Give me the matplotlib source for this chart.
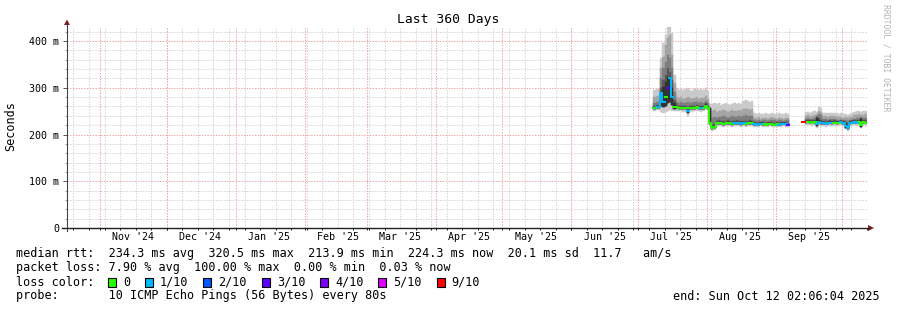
import numpy as np
import matplotlib
matplotlib.use("Agg")
import matplotlib.pyplot as plt
import matplotlib.dates as mdates
from matplotlib.lines import Line2D
from matplotlib.patches import Rectangle, Polygon
from matplotlib.ticker import FixedLocator, MultipleLocator, FuncFormatter
from datetime import datetime

plt.rcParams["font.family"] = ["DejaVu Sans Mono"]

W, H = 897, 310
nan = np.nan

# time window of the graph
start = datetime(2024, 10, 17, 2, 6, 4)
end = datetime(2025, 10, 12, 2, 6, 4)
first_day = datetime(2025, 7, 8)

# daily ping ranks in ms (Jul 8 .. Oct 11 2025)
top = [
    296, 298, 297,
    364, 396, 413, 430, 430, 417, 327,
    299, 296, 298, 295, 297, 299, 296, 294, 297, 298, 295, 297, 296, 299, 294,
    266, 266, 268, 265, 267, 264, 266, 268, 265, 263, 266, 267, 265, 268, 266, 271, 273, 272, 270, 272,
    245, 244, 246, 243, 244, 245, 243, 244, 246, 244, 243, 245, 244, 243, 245, 244,
    nan, nan, nan, nan, nan, nan,
    227, 248, 249, 247, 248, 250, 249, 259, 256, 246, 247, 245, 246, 247, 246, 245,
    244, 245, 243, 244, 242, 244, 245, 249, 250, 251, 249, 250, 251,
]
p9 = [
    280, 283, 282,
    342, 366, 391, 406, 413, 370, 310,
    281, 278, 280, 277, 279, 280, 278, 277, 279, 280, 277, 279, 278, 282, 277,
    256, 250, 252, 249, 251, 250, 252, 251, 249, 250, 252, 251, 250, 252, 251, 254, 255, 254, 253, 254,
    236, 235, 237, 234, 235, 236, 234, 235, 237, 235, 234, 236, 235, 234, 236, 235,
    nan, nan, nan, nan, nan, nan,
    227, 240, 241, 239, 240, 242, 243, 250, 248, 239, 240, 238, 239, 240, 239, 238,
    237, 238, 236, 237, 235, 237, 238, 241, 242, 243, 241, 242, 243,
]
p8 = [
    268, 270, 269,
    321, 342, 355, 370, 363, 342, 291,
    270, 268, 269, 267, 268, 269, 268, 267, 269, 270, 267, 269, 268, 272, 267,
    256, 236, 238, 236, 238, 237, 239, 238, 236, 237, 239, 238, 237, 239, 238, 240, 241, 240, 239, 240,
    230, 229, 231, 229, 230, 230, 229, 230, 231, 230, 229, 230, 230, 229, 230, 230,
    nan, nan, nan, nan, nan, nan,
    227, 234, 235, 233, 234, 235, 240, 243, 241, 233, 234, 232, 233, 234, 233, 232,
    231, 232, 230, 231, 229, 231, 232, 234, 235, 236, 238, 235, 236,
]
p7 = [
    262, 263, 263,
    299, 317, 327, 342, 334, 317, 274,
    263, 262, 262, 261, 261, 258, 262, 261, 262, 263, 262, 261, 262, 268, 262,
    256, 221, 222, 229, 230, 229, 228, 229, 230, 229, 228, 229, 230, 229, 228, 229, 228, 229, 230, 229,
    226, 225, 226, 227, 226, 225, 226, 227, 226, 225, 226, 225, 226, 227, 226, 225,
    nan, nan, nan, nan, nan, nan,
    227, 231, 232, 231, 230, 231, 238, 235, 232, 229, 228, 229, 230, 229, 230, 229,
    229, 230, 228, 226, 224, 229, 230, 231, 230, 231, 236, 231, 230,
]
p6 = [
    259, 260, 260,
    291, 302, 312, 323, 322, 299, 267,
    260, 259, 259, 258, 258, 253, 259, 258, 259, 260, 259, 258, 259, 265, 259,
    256, 217, 219, 226, 227, 226, 225, 226, 227, 226, 225, 226, 227, 226, 225, 226, 225, 226, 227, 226,
    224, 223, 224, 225, 224, 223, 224, 225, 224, 223, 224, 223, 224, 225, 224, 223,
    nan, nan, nan, nan, nan, nan,
    227, 228, 229, 228, 227, 228, 236, 230, 227, 226, 225, 226, 227, 226, 227, 226,
    227, 228, 226, 222, 218, 226, 227, 228, 227, 228, 234, 228, 227,
]
median = [
    257, 258, 258,
    289, 269, 280, 300, 320, 281, 259,
    258, 257, 257, 256, 256, 250, 257, 256, 257, 258, 257, 256, 257, 262, 257,
    224, 214, 216, 224, 225, 224, 223, 224, 225, 224, 223, 224, 225, 224, 223, 224, 223, 224, 225, 224,
    222, 221, 222, 223, 222, 221, 222, 223, 222, 221, 222, 221, 222, 223, 222, 221,
    nan, nan, nan, nan, nan, nan,
    227, 226, 227, 226, 225, 226, 222, 227, 224, 224, 223, 224, 225, 224, 225, 224,
    225, 226, 224, 218, 214, 224, 225, 226, 225, 226, 220, 226, 225,
]
mid_lo = [
    255, 256, 256,
    262, 258, 262, 268, 270, 264, 255,
    256, 255, 255, 254, 254, 247, 255, 254, 255, 256, 255, 254, 255, 259, 255,
    222, 212, 214, 222, 223, 222, 221, 222, 223, 222, 221, 222, 223, 222, 221, 222, 221, 222, 223, 222,
    221, 220, 221, 222, 221, 220, 221, 222, 221, 220, 221, 220, 221, 222, 221, 220,
    nan, nan, nan, nan, nan, nan,
    227, 225, 226, 225, 224, 225, 218, 226, 223, 223, 222, 223, 224, 223, 224, 223,
    224, 225, 223, 214, 211, 223, 224, 225, 224, 225, 217, 225, 224,
]
low = [
    250, 252, 252,
    248, 246, 248, 250, 252, 250, 250,
    251, 250, 250, 249, 249, 240, 250, 249, 250, 251, 250, 249, 250, 254, 250,
    219, 207, 209, 218, 219, 218, 217, 218, 219, 218, 217, 218, 219, 218, 217, 218, 217, 218, 219, 218,
    217, 216, 217, 218, 217, 216, 217, 218, 217, 216, 217, 216, 217, 218, 217, 216,
    nan, nan, nan, nan, nan, nan,
    227, 220, 221, 220, 219, 220, 214, 220, 218, 218, 217, 218, 219, 218, 219, 218,
    219, 220, 218, 211, 208, 218, 219, 220, 219, 220, 213, 220, 219,
]
# lost pings out of 10
loss = [
    0, 1, 1,
    1, 1, 0, 3, 1, 1, 0,
    0, 0, 0, 0, 0, 1, 0, 0, 0, 0, 0, 1, 0, 0, 0,
    0, 0, 0, 0, 0, 0, 0, 0, 0, 0, 0, 1, 0, 1, 1, 1, 0, 0, 0, 0,
    1, 1, 1, 1, 0, 0, 0, 0, 0, 0, 0, 1, 1, 1, 1, 3,
    nan, nan, nan, nan, nan, nan,
    9, 0, 0, 0, 0, 0, 1, 1, 1, 1, 1, 1, 1, 0, 0, 0,
    0, 1, 1, 1, 1, 1, 1, 1, 1, 0, 0, 0, 0,
]

loss_steps = [0, 1, 2, 3, 4, 5, 9]
loss_labels = ["0", "1/10", "2/10", "3/10", "4/10", "5/10", "9/10"]
loss_colors = ["#26ff00", "#00b8ff", "#0059ff", "#5e00ff", "#7e00ff", "#dd00ff", "#ff0000"]
smoke_colors = ["#cacaca", "#a4a4a4", "#7e7e7e", "#585858", "#323232"]

legend_lines = [
    "median rtt:  234.3 ms avg  320.5 ms max  213.9 ms min  224.3 ms now  20.1 ms sd  11.7   am/s",
    "packet loss: 7.90 % avg  100.00 % max  0.00 % min  0.03 % now",
]
probe_text = "probe:       10 ICMP Echo Pings (56 Bytes) every 80s"
end_text = "end: Sun Oct 12 02:06:04 2025"


def fx(px):
    return px / W


def fy(py):
    return 1 - py / H


fig = plt.figure(figsize=(W / 100, H / 100), dpi=100)
fig.patch.set_facecolor("white")
ax = fig.add_axes([fx(67), fy(228), fx(867) - fx(67), fy(27) - fy(228)])
ax.set_facecolor("white")
for s in ax.spines.values():
    s.set_visible(False)

t0, t1 = mdates.date2num(start), mdates.date2num(end)
ax.set_xlim(t0, t1)
ax.set_ylim(0, 430)

# grid
weeks = mdates.WeekdayLocator(byweekday=mdates.SU).tick_values(start, end)
months = mdates.MonthLocator(bymonthday=1).tick_values(start, end)
weeks = [w for w in weeks if t0 < w < t1]
months = [m for m in months if t0 < m < t1]
gkw = dict(lw=0.72, linestyle=(0, (1.4, 1.4)), zorder=1)
for w in weeks:
    ax.axvline(w, color="#d4d4d4", **gkw)
for v in np.arange(20, 430, 20):
    if v % 100:
        ax.axhline(v, color="#d4d4d4", **gkw)
for m in months:
    ax.axvline(m, color="#f0a4a4", **gkw)
for v in [100, 200, 300, 400]:
    ax.axhline(v, color="#f0a4a4", **gkw)

# smoke
x0 = mdates.date2num(first_day)
xd = x0 + np.arange(len(median))
lo_edges = [low, mid_lo, mid_lo, mid_lo, mid_lo]
hi_edges = [top, p9, p8, p7, p6]
for lo, hi, col in zip(lo_edges, hi_edges, smoke_colors):
    lo = np.array(lo, float)
    hi = np.array(hi, float)
    ok = ~np.isnan(lo) & (hi > lo)
    ax.bar(xd[ok], (hi - lo)[ok], bottom=lo[ok], width=1.0, align="edge",
           color=col, edgecolor=col, linewidth=0.3, zorder=3)

# median coloured by loss
med = np.array(median, float)
ls = np.array(loss, float)
cat = np.full(len(ls), -1)
good = ~np.isnan(ls)
cat[good] = np.searchsorted(loss_steps, ls[good], side="right") - 1
edges = x0 + np.arange(len(med) + 1)
for k, col in enumerate(loss_colors):
    m = np.where(cat == k, med, nan)
    ax.step(edges, np.append(m, nan), where="post", color=col, lw=1.4, zorder=5)

# ticks
ax.xaxis.set_major_locator(mdates.MonthLocator(bymonthday=16))
ax.xaxis.set_major_formatter(mdates.DateFormatter("%b '%y"))
ax.xaxis.set_minor_locator(FixedLocator(sorted(weeks + months)))
ax.tick_params(axis="x", which="major", length=0, pad=3.2, labelsize=7.2)
ax.tick_params(axis="x", which="minor", length=1.6, width=0.7, color="#1f1f1f", direction="out")
ax.yaxis.set_major_locator(MultipleLocator(100))
ax.yaxis.set_minor_locator(MultipleLocator(20))
ax.yaxis.set_major_formatter(FuncFormatter(lambda v, p: "0" if v == 0 else f"{int(v)} m"))
ax.tick_params(axis="y", which="major", length=3, width=0.7, color="#555555", pad=2.5, labelsize=7.2)
ax.tick_params(axis="y", which="minor", length=1.5, width=0.7, color="#999999")

# axes with arrows
fig.add_artist(Line2D([fx(67), fx(67)], [fy(231), fy(24)], transform=fig.transFigure,
                      color="#444444", lw=0.8))
fig.add_artist(Line2D([fx(62), fx(869)], [fy(228), fy(228)], transform=fig.transFigure,
                      color="#1f1f1f", lw=1.0))
arrow_col = "#7f1f1f"
fig.add_artist(Polygon([[fx(64), fy(25)], [fx(70), fy(25)], [fx(67), fy(19.5)]],
                       closed=True, transform=fig.transFigure, color=arrow_col, lw=0))
fig.add_artist(Polygon([[fx(868), fy(225)], [fx(868), fy(231)], [fx(874), fy(228)]],
                       closed=True, transform=fig.transFigure, color=arrow_col, lw=0))

# texts
fig.text(fx(448), fy(19), "Last 360 Days", ha="center", va="center", fontsize=9.4)
fig.text(fx(11), fy(126), "Seconds", ha="center", va="center", rotation=90, fontsize=8.5)
fig.text(fx(886), fy(4), "RRDTOOL / TOBI OETIKER", ha="center", va="top", rotation=270,
         fontsize=5.9, color="#b4b4b4")

cw = 7.08
fs = 8.5
for i, line in enumerate(legend_lines):
    fig.text(fx(16), fy(254 + 14 * i), line, ha="left", va="center", fontsize=fs)
fig.text(fx(16), fy(282), "loss color:", ha="left", va="center", fontsize=fs)
bx = 16 + 13 * cw
for lab, col in zip(loss_labels, loss_colors):
    fig.add_artist(Rectangle((fx(bx), fy(286.5)), 8 / W, 9 / H, transform=fig.transFigure,
                             facecolor=col, edgecolor="black", lw=0.8))
    fig.text(fx(bx + 15), fy(282), lab, ha="left", va="center", fontsize=fs)
    bx += 15 + len(lab) * cw + 15
fig.text(fx(16), fy(296), probe_text, ha="left", va="center", fontsize=fs)
fig.text(fx(880), fy(296), end_text, ha="right", va="center", fontsize=fs)

fig.savefig("out.png", dpi=100, facecolor="white")
